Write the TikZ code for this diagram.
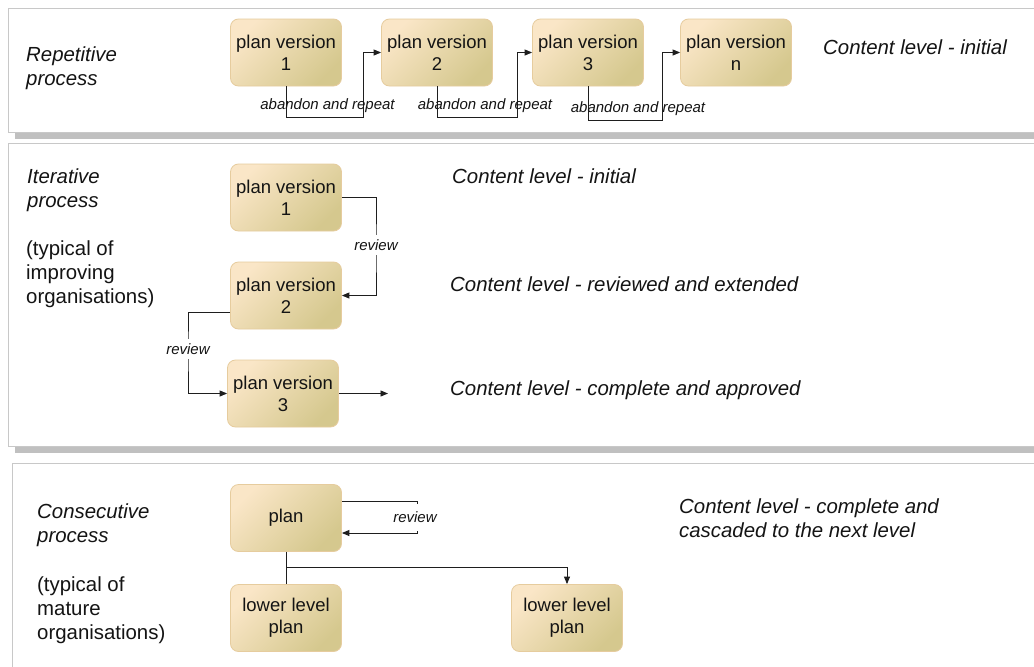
\documentclass[tikz,border=0pt]{standalone}
\usepackage{fontspec}
\setmainfont{Liberation Sans}
\usetikzlibrary{arrows.meta,calc}
\definecolor{boxlight}{RGB}{250,230,199}
\definecolor{boxdark}{RGB}{213,200,142}
\definecolor{boxborder}{RGB}{230,204,158}
\definecolor{panelborder}{RGB}{200,200,200}
\definecolor{panelshadow}{RGB}{192,192,192}
\definecolor{linec}{RGB}{30,30,30}
\definecolor{textc}{RGB}{20,20,20}
\begin{document}
\begin{tikzpicture}[x=1pt,y=-1pt,
  planbox/.style={draw=boxborder, line width=0.8pt, rounded corners=8pt,
    top color=boxlight, bottom color=boxdark, shading angle=45,
    minimum width=111pt, minimum height=67pt, inner sep=2pt, align=center,
    font=\fontsize{18.5}{22}\selectfont, text=textc},
  conn/.style={draw=linec, line width=0.9pt},
  arr/.style={conn, -{Triangle[length=7.5pt,width=6pt]}},
  small/.style={font=\fontsize{15}{18}\selectfont\itshape, text=textc, inner sep=1pt},
  revlab/.style={small, fill=white, inner sep=4pt},
  big/.style={font=\fontsize{20.4}{24}\selectfont, align=left, text=textc, inner sep=0pt, anchor=base west},
  bigit/.style={big, font=\fontsize{20.4}{24}\selectfont\itshape},
  panel/.style={fill=white, draw=panelborder, line width=1pt},
  shadowbox/.style={fill=panelshadow}]
\useasboundingbox (0,0) rectangle (1034,667);
\clip (0,0) rectangle (1034,667);

% panels
\fill[shadowbox] (15,15) rectangle (1060,139);
\filldraw[panel] (8,8) rectangle (1050,132);
\fill[shadowbox] (15,150) rectangle (1060,453);
\filldraw[panel] (8,143) rectangle (1050,446);
\filldraw[panel] (12,463) rectangle (1050,690);

% ---- Repetitive process ----
% (base anchor of a multi-line node = baseline of its last line)
\node[bigit] (t1) at (26,85) {Repetitive\\process};
\node[planbox] (r1) at (286,52.5) {plan version\\1};
\node[planbox] (r2) at (437,52.5) {plan version\\2};
\node[planbox] (r3) at (588,52.5) {plan version\\3};
\node[planbox] (rn) at (736,52.5) {plan version\\n};
\coordinate (k1) at (363,117);
\coordinate (k2) at (517,117);
\coordinate (k3) at (662,120);
\draw[arr] (r1.south) |- (k1) |- (r2.west);
\draw[arr] (r2.south) |- (k2) |- (r3.west);
\draw[arr] (r3.south) |- (k3) |- (rn.west);
\node[small] (a1) at (327.5,106) {abandon and repeat};
\node[small] (a2) at (485,106) {abandon and repeat};
\node[small] (a3) at (638,109) {abandon and repeat};
\node[bigit] (c1) at (823,54) {Content level - initial};

% ---- Iterative process ----
\node[bigit] (t2) at (27,207) {Iterative\\process};
\node[big] (t2b) at (26,303) {(typical of\\improving\\organisations)};
\node[planbox] (p1) at (286,197.5) {plan version\\1};
\node[planbox] (p2) at (286,295.5) {plan version\\2};
\node[planbox] (p3) at (283,393.5) {plan version\\3};
\coordinate (m1) at (376,250);
\draw[arr] (p1.east) -| (m1) |- (p2.east);
\node[revlab] (rv1) at (376,245) {review};
\coordinate (m2a) at (p2.west |- 0,312);
\coordinate (m2) at (188,350);
\draw[arr] (m2a) -| (m2) |- (p3.west);
\node[revlab] (rv2) at (188,349) {review};
\coordinate (e3) at (388,393.5);
\draw[arr] (p3.east) -- (e3);
\node[bigit] (c2) at (452,183) {Content level - initial};
\node[bigit] (c3) at (450,291) {Content level - reviewed and extended};
\node[bigit] (c4) at (450,395) {Content level - complete and approved};

% ---- Consecutive process ----
\node[bigit] (t3) at (37,542) {Consecutive\\process};
\node[big] (t3b) at (37,639) {(typical of\\mature\\organisations)};
\node[planbox] (q) at (286,518) {plan};
\node[planbox] (l1) at (286,618) {lower level\\plan};
\node[planbox] (l2) at (567,618) {lower level\\plan};
\coordinate (qa) at (q.east |- 0,501);
\coordinate (qb) at (q.east |- 0,533);
\coordinate (qr) at (417,517);
\draw[arr] (qa) -| (qr) |- (qb);
\node[small, fill=white, inner sep=0pt, minimum height=27pt] (rv3) at (415,517) {review};
\draw[conn] (q.south) -- (l1.north);
\coordinate (br) at (286,567);
\draw[arr] (br) -| (l2.north);
\node[bigit] (c5) at (679,537) {Content level - complete and\\cascaded to the next level};
\end{tikzpicture}
\end{document}
